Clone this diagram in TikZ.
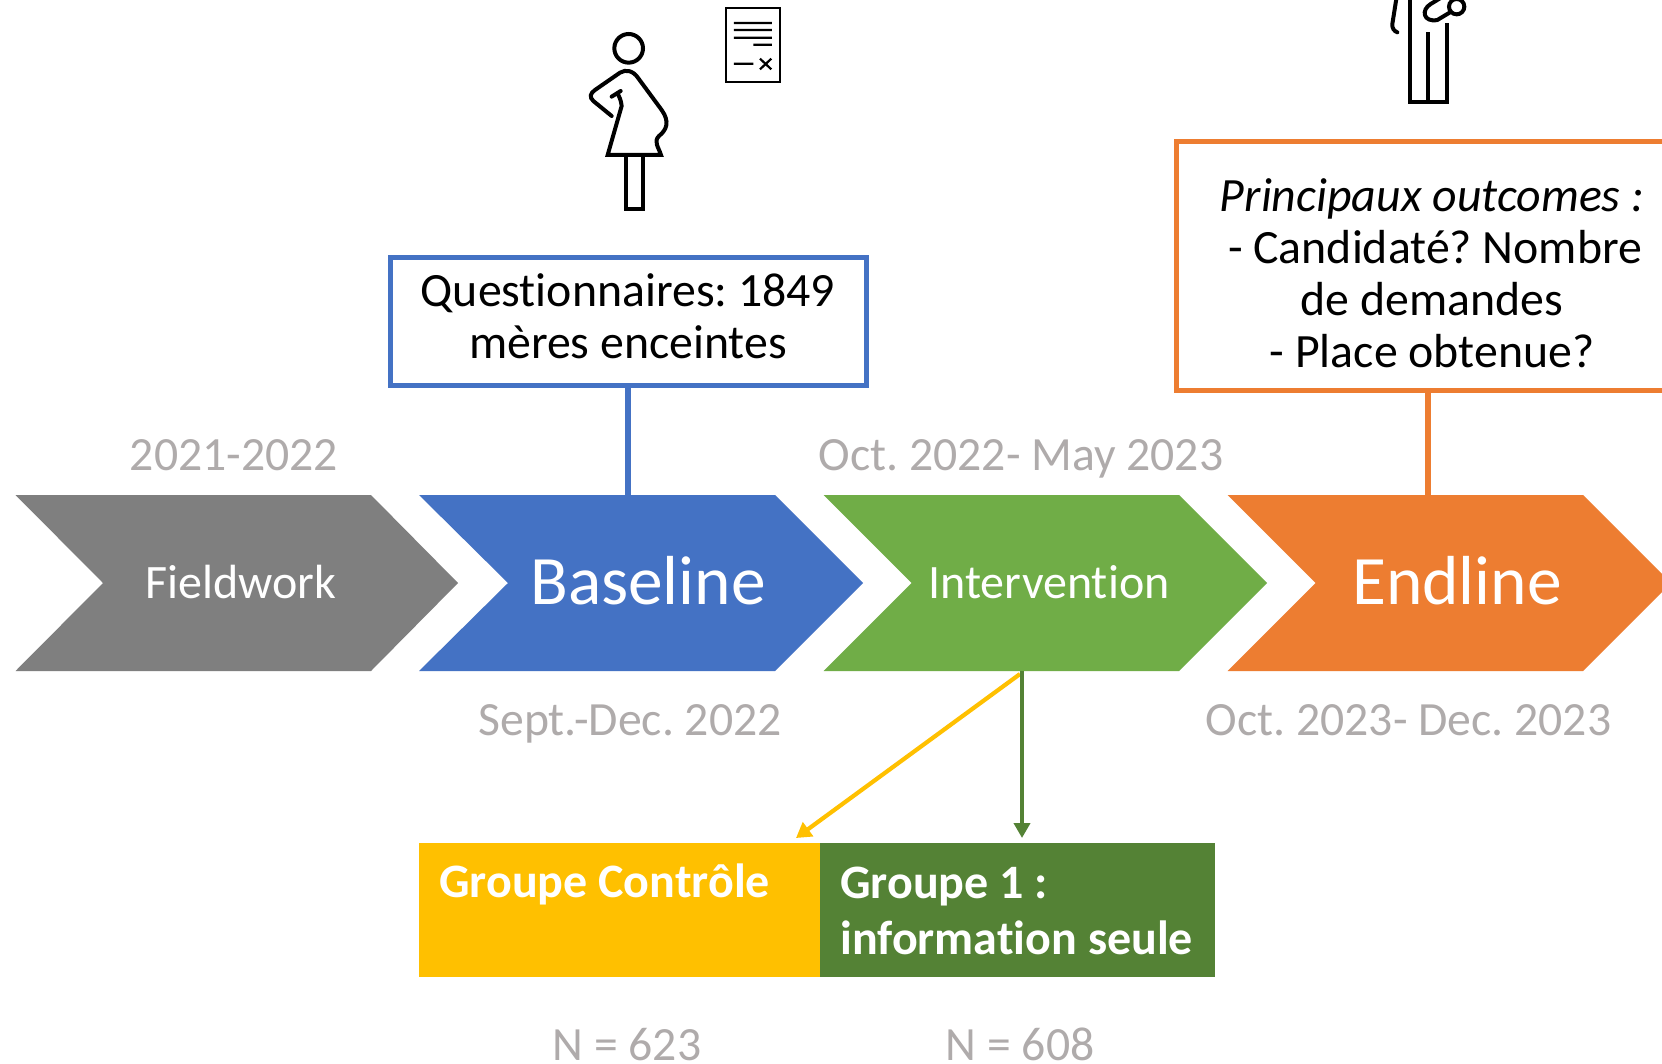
\documentclass[tikz,border=0pt]{standalone}
\usepackage{fontspec}
\setmainfont[Ligatures=CommonOff]{Carlito}
\usetikzlibrary{arrows.meta}
\definecolor{cgray}{HTML}{7F7F7F}
\definecolor{cblue}{HTML}{4472C4}
\definecolor{cgreen}{HTML}{70AD47}
\definecolor{corange}{HTML}{ED7D31}
\definecolor{cyellow}{HTML}{FFC000}
\definecolor{cdgreen}{HTML}{548235}
\definecolor{clabel}{HTML}{AFABAB}
\tikzset{
  x=1pt,y=-1pt,
  lbl/.style={text=clabel,font=\frenchspacing\fontsize{47.7}{52}\selectfont,inner sep=0pt,anchor=base},
  steptxt/.style={text=white,inner sep=0pt,anchor=base},
  smallstep/.style={steptxt,font=\fontsize{48}{52}\selectfont},
  bigstep/.style={steptxt,font=\fontsize{69.4}{76}\selectfont},
  infobox/.style={line width=5pt,fill=white},
  infotext/.style={align=center,text=black,font=\frenchspacing\fontsize{47.8}{52}\selectfont,inner sep=0pt},
  groupbox/.style={text=white,font=\bfseries\fontsize{48}{56}\selectfont,align=left,anchor=north west,inner sep=0pt},
  icon/.style={line width=4pt,black,line join=miter},
  thin icon/.style={line width=2pt,black},
}
\begin{document}
\begin{tikzpicture}
\clip (0,0) rectangle (1662,1063);
\fill[white] (0,0) rectangle (1662,1063);
% chevrons
\fill[cgray] (15.5,495) -- (371,495) -- (458,583) -- (371,671) -- (15.5,671) -- (103,583) -- cycle;
\fill[cblue] (419,495) -- (775,495) -- (863,583) -- (775,671) -- (419,671) -- (508,583) -- cycle;
\fill[cgreen] (823.5,495) -- (1179,495) -- (1267,583) -- (1179,671) -- (823.5,671) -- (911.5,583) -- cycle;
\fill[corange] (1227.5,495) -- (1583,495) -- (1671,583) -- (1583,671) -- (1227.5,671) -- (1315.5,583) -- cycle;
\node[smallstep] (fieldwork) at (241,598) {Fieldwork};
\node[bigstep] (baseline) at (648,604) {Baseline};
\node[smallstep] (intervention) at (1049,598) {Intervention};
\node[bigstep] (endline) at (1457,604) {Endline};
\coordinate (baseTop) at (628,495);
\coordinate (endTop) at (1428,495);
\coordinate (intBot) at (1022,671);
% date labels
\node[lbl] (d1) at (234,470) {2021-2022};
\node[lbl] (d2) at (630,735) {Sept.-Dec. 2022};
\node[lbl] (d3) at (1021,470) {Oct. 2022- May 2023};
\node[lbl] (d4) at (1408.5,735) {Oct. 2023- Dec. 2023};
% info boxes
\draw[infobox,draw=cblue] (390,257) rectangle (866,385);
\node[infotext] (q) at (628,316.5) {Questionnaires: 1849\\mères enceintes};
\coordinate (qBot) at (628,385);
\draw[cblue,line width=5.5pt] (qBot) -- (baseTop);
\draw[infobox,draw=corange] (1176.5,141) rectangle (1700,390);
\node[infotext] (p) at (1432,273) {\itshape Principaux outcomes :\\\hspace*{6pt}- Candidaté? Nombre\\de demandes\\- Place obtenue?};
\coordinate (pBot) at (1428,390);
\draw[corange,line width=5.5pt] (pBot) -- (endTop);
% groups
\fill[cyellow] (419,843) rectangle (820,977);
\fill[cdgreen] (820,843) rectangle (1215,977);
\node[groupbox] (g0) at (439,864) {Groupe Contrôle};
\node[groupbox] (g1) at (840,867) {Groupe 1 :\\information seule};
\coordinate (g0Top) at (796,838);
\coordinate (g1Top) at (1022,838);
\coordinate (intBotL) at (1020,674);
\draw[cyellow,line width=4.2pt,-{Triangle[length=15pt,width=17pt]}] (intBotL) -- (g0Top);
\draw[cdgreen,line width=4.2pt,-{Triangle[length=15pt,width=16pt]}] (intBot) -- (g1Top);
\node[lbl] (n0) at (627,1060) {N = 623};
\node[lbl] (n1) at (1020,1060) {N = 608};
% pregnant woman icon
\begin{scope}[shift={(560,0)},x=0.3333pt,y=-0.3333pt,icon]
\draw (206,145) circle (43);
\draw[line cap=round] (155,348) -- (100,303) .. controls (88,292) and (90,280) .. (105,270) -- (180,218) .. controls (198,207) and (220,212) .. (235,235) -- (305,330) .. controls (330,365) and (320,390) .. (297,408) .. controls (280,425) and (295,440) .. (303,465) -- (143,465) -- (185,318) .. controls (183,300) and (178,290) .. (172,280);
\draw[line cap=round] (155,290) -- (182,273);
\draw (198,465) rectangle (250,628);
\end{scope}
% document icon
\begin{scope}[shift={(560,0)},x=0.3333pt,y=-0.3333pt,thin icon]
\draw (497,25) rectangle (661,245);
\draw[line width=2.2pt] (522,69) -- (636,69) (522,90) -- (636,90) (522,113) -- (636,113) (580,134) -- (636,134) (522,191) -- (580,191) (600,176) -- (634,208) (634,176) -- (600,208);
\end{scope}
% parent icon, cut by the top edge
\begin{scope}[shift={(1360,0)},x=0.3333pt,y=-0.3333pt,icon]
\draw (150,-10) -- (150,305) -- (260,305) -- (260,68);
\draw (205,97) -- (205,305);
\draw[line cap=round] (110,-10) -- (97,72) .. controls (96,85) and (102,93) .. (112,97);
\draw (290,20) circle (23);
\draw[line cap=round] (240,-5) -- (212,12) .. controls (182,30) and (190,68) .. (232,60) -- (272,36);
\end{scope}
\end{tikzpicture}
\end{document}
